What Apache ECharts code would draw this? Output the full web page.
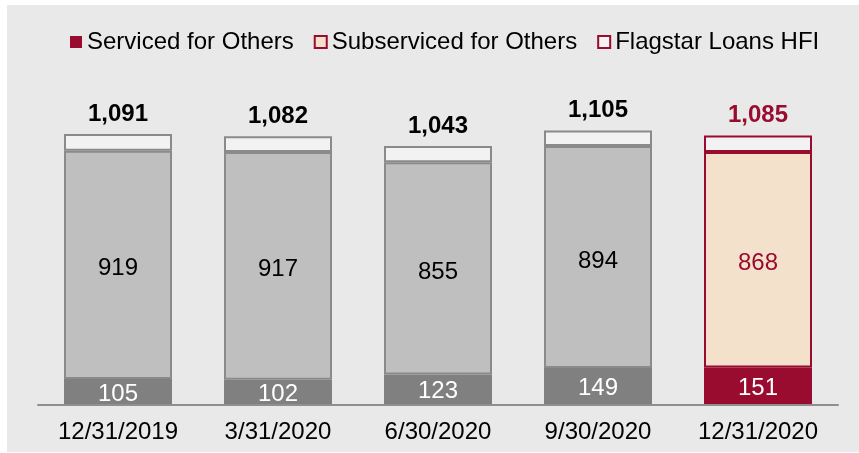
<!DOCTYPE html>
<html>
<head>
<meta charset="utf-8">
<script src="https://cdn.jsdelivr.net/npm/echarts@6/dist/echarts.min.js"></script>
<style>
  html, body { margin: 0; padding: 0; background: #ffffff; }
  #chart { width: 859px; height: 453px; }
</style>
</head>
<body>
<div id="chart"></div>
<script>
// Servicing portfolio by quarter-end (thousands of loans)
const categories = ['12/31/2019', '3/31/2020', '6/30/2020', '9/30/2020', '12/31/2020'];
const servicedForOthers = [105, 102, 123, 149, 151];
const subservicedForOthers = [919, 917, 855, 894, 868];
const totals = [1091, 1082, 1043, 1105, 1085];
// Flagstar loans HFI is the remainder of each total
const loansHFI = totals.map((t, i) => t - servicedForOthers[i] - subservicedForOthers[i]);

const CRIMSON = '#990b2f';
const PEACH = '#f4e1cc';
const DARK = '#808080';
const MID = '#bfbfbf';
const LIGHT = '#f2f2f2';
const EDGE = '#8a8a8a';
const FONT = '"Liberation Sans", Arial, sans-serif';
const last = categories.length - 1;

const chart = echarts.init(document.getElementById('chart'), null, { renderer: 'canvas' });

// The latest quarter is highlighted with its own item and label style
function styled(values, highlight, labelHighlight) {
  return values.map((v, i) => {
    if (i !== last) return { value: v };
    return { value: v, itemStyle: highlight, label: labelHighlight };
  });
}

chart.setOption({
  backgroundColor: '#ffffff',
  animation: false,
  graphic: [{
    type: 'rect',
    z: -10,
    shape: { x: 7, y: 5, width: 852, height: 447 },
    style: { fill: '#e9e9e9' }
  }],
  legend: {
    left: 70,
    top: 30,
    padding: 0,
    itemWidth: 12,
    itemHeight: 12,
    itemGap: 20,
    icon: 'rect',
    textStyle: { fontFamily: FONT, fontSize: 24, color: '#000000' },
    data: [
      { name: 'Serviced for Others', itemStyle: { color: CRIMSON, borderWidth: 0 } },
      { name: 'Subserviced for Others', itemStyle: { color: PEACH, borderColor: CRIMSON, borderWidth: 2 } },
      { name: 'Flagstar Loans HFI', itemStyle: { color: LIGHT, borderColor: CRIMSON, borderWidth: 2 } }
    ]
  },
  grid: { left: 38, right: 21, top: 107, bottom: 48 },
  xAxis: {
    type: 'category',
    data: categories,
    z: 5,
    axisLine: { lineStyle: { color: '#8f8f8f', width: 2 } },
    axisTick: { show: false },
    axisLabel: { fontFamily: FONT, fontSize: 24, color: '#000000', margin: 15 }
  },
  yAxis: {
    type: 'value',
    min: 0,
    max: 1200,
    show: false,
    splitLine: { show: false }
  },
  series: [
    {
      name: 'Serviced for Others',
      type: 'bar',
      stack: 'total',
      barWidth: 108,
      itemStyle: { color: DARK, borderColor: DARK, borderWidth: 0 },
      label: {
        show: true, position: 'inside', fontFamily: FONT, fontSize: 24, color: '#ffffff', offset: [0, 2]
      },
      data: styled(servicedForOthers, { color: CRIMSON, borderColor: CRIMSON, borderWidth: 0 })
    },
    {
      name: 'Subserviced for Others',
      type: 'bar',
      stack: 'total',
      itemStyle: { color: MID, borderColor: EDGE, borderWidth: 2 },
      label: {
        show: true, position: 'inside', fontFamily: FONT, fontSize: 24, color: '#000000', offset: [0, 4]
      },
      data: styled(subservicedForOthers,
        { color: PEACH, borderColor: CRIMSON, borderWidth: 2 },
        { color: CRIMSON })
    },
    {
      name: 'Flagstar Loans HFI',
      type: 'bar',
      stack: 'total',
      itemStyle: { color: LIGHT, borderColor: EDGE, borderWidth: 2 },
      label: {
        show: true,
        position: 'top',
        distance: 8,
        fontFamily: FONT,
        fontSize: 24,
        fontWeight: 'bold',
        color: '#000000',
        formatter: p => totals[p.dataIndex].toLocaleString('en-US')
      },
      data: styled(loansHFI,
        { color: LIGHT, borderColor: CRIMSON, borderWidth: 2 },
        { color: CRIMSON })
    }
  ]
});
</script>
</body>
</html>
